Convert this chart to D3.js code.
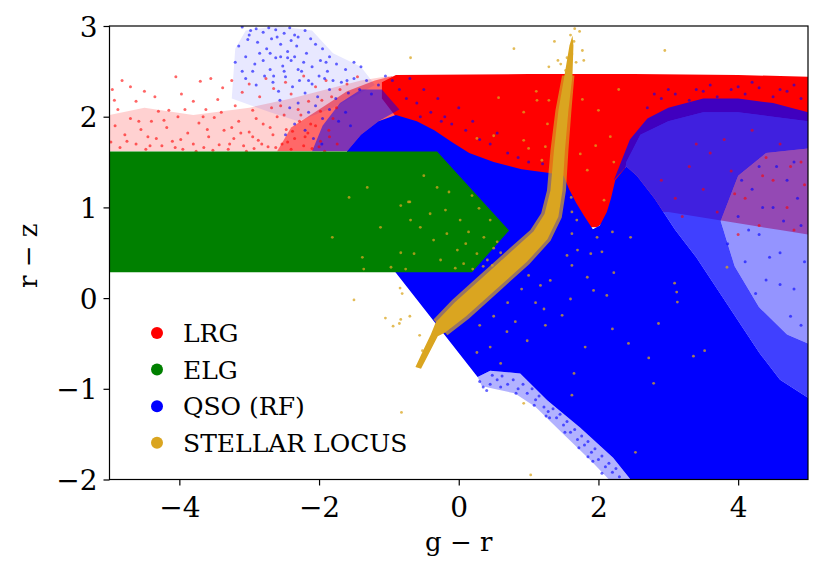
<!DOCTYPE html>
<html lang="en">
<head>
<meta charset="utf-8">
<title>g - r vs r - z</title>
<script src="https://d3js.org/d3.v7.min.js"></script>
<style>
  body { margin: 0; background: #fff; }
  svg text { font-family: "DejaVu Serif", serif; fill: #000; }
</style>
</head>
<body>
<script>
// ---- axes ----
var xTicks = [-4, -2, 0, 2, 4];
var yTicks = [-2, -1, 0, 1, 2, 3];
var xDomain = [-5, 5];
var yDomain = [-2, 3];
var legendNames = ["LRG", "ELG", "QSO (RF)", "STELLAR LOCUS"];

// ---- LRG (g-r, r-z) ----
var lrgCore = [[-1.1,2.38],[-0.9,2.46],[1.0,2.47],[2.5,2.47],[4.0,2.46],[5,2.44],[5,1.95],[4.5,2.0],[4.0,2.05],[3.5,2.05],[3.0,1.95],[2.6,1.8],[2.4,1.5],[2.3,1.0],[2.1,0.85],[1.98,0.78],[1.86,0.78],[1.72,0.95],[1.5,1.1],[1.2,1.0],[0.6,1.1],[0.0,1.4],[-0.5,1.7],[-0.85,1.95],[-1.1,2.2]];
var lrgLow = [[2.3,1.0],[2.4,1.5],[2.6,1.8],[3.0,1.95],[3.5,2.05],[4.0,2.05],[4.5,2.0],[5,1.95],[5,0.7],[4.6,0.75],[4.2,0.8],[3.8,0.85],[3.4,0.9],[3.0,0.95],[2.6,0.95]];
var lrgHaze = [[-5,1.62],[-5,2.02],[-4.5,2.1],[-3.8,2.02],[-3.0,2.1],[-2.4,2.2],[-1.9,2.3],[-1.4,2.4],[-1.0,2.45],[-0.8,2.3],[-1.0,1.62]];
var lrgMid = [[-2.6,1.62],[-2.4,1.88],[-2.0,2.08],[-1.6,2.28],[-1.2,2.4],[-0.95,2.45],[-0.9,2.0],[-1.1,1.62]];
var lrgDots = [[-4.96,2.30],[-4.93,2.18],[-4.82,2.40],[-4.70,2.33],[-4.62,2.17],[-4.50,2.28],[-4.35,2.22],[-4.30,2.06],[-4.15,2.07],[-4.05,2.44],[-3.97,2.25],[-3.80,2.17],[-3.70,2.39],[-3.62,2.08],[-3.55,2.42],[-3.45,2.19],[-3.38,2.32],[-3.25,2.40],[-3.2,2.12],[-3.1,2.27],[-3.0,2.36],[-2.95,2.07],[-2.85,2.22],[-2.76,2.42],[-2.65,2.31],[-2.55,2.12],[-2.48,2.38],[-2.40,2.25],[-2.30,2.08],[-2.22,2.45],[-2.15,2.17],[-2.05,2.33],[-1.98,2.06],[-1.90,2.40],[-1.82,2.22],[-1.75,2.10],
  [-4.98,1.72],[-4.92,1.90],[-4.85,1.66],[-4.78,1.80],[-4.70,1.98],[-4.62,1.70],[-4.55,1.86],[-4.48,1.64],[-4.40,1.95],[-4.33,1.76],[-4.25,1.68],[-4.18,1.88],[-4.10,1.73],[-4.02,2.00],[-3.95,1.64],[-3.88,1.82],[-3.80,1.70],[-3.72,1.93],[-3.65,1.66],[-3.58,1.78],[-3.50,1.99],[-3.43,1.69],[-3.36,1.85],[-3.30,1.64],[-3.22,1.76],[-3.15,1.95],[-3.08,1.68],[-3.00,1.83],[-2.93,1.65],[-2.87,1.74],[-2.80,1.92],[-2.73,1.67],[-2.66,1.80],[-2.60,2.00],[-2.53,1.70],[-2.47,1.86],[-2.40,1.64],[-2.35,1.76],[-2.28,1.95],[-2.22,1.68],[-2.16,1.82],[-2.10,1.65],[-2.05,1.90],[-1.98,1.73],[-1.92,1.62],[-1.86,1.85],[-1.80,1.98],[-1.74,1.70],[-4.45,1.78],[-3.98,1.75],[-3.60,1.86],[-3.25,1.88],[-2.95,1.78],[-2.70,1.88],[-2.45,1.72],[-2.20,1.78],[-2.00,1.67],[-1.85,1.78],
  [-4.88,2.08],[-4.75,1.73],[-4.58,1.95],[-4.42,1.68],[-4.22,1.96],[-4.06,1.66],[-3.92,2.08],[-3.76,1.62],[-3.66,2.00],[-3.52,1.63],[-3.40,2.05],[-3.28,1.70],[-3.12,1.82],[-3.04,1.62],[-2.90,1.98],[-2.82,1.70],[-2.68,2.10],[-2.62,1.66],[-2.50,2.02],[-2.38,1.84],[-2.26,2.02],[-2.12,1.92],[-1.96,2.18],[-1.70,2.30],[-1.60,2.36],[-1.45,2.44],
  [2.9,1.3],[3.1,1.1],[3.3,1.45],[3.5,1.2],[3.7,0.95],[3.9,1.4],[4.1,1.1],[4.3,0.8],[4.5,1.3],[4.7,1.0],[4.9,1.5],[3.2,0.9],[3.6,1.6],[4.0,0.7],[4.4,1.55],[4.8,0.75],[4.6,1.7],[4.2,1.85],[3.8,1.75],[3.4,1.7],[4.95,1.25],[4.75,1.45],[4.35,1.35],[3.95,1.15]];

// ---- QSO (RF) ----
var qsoCore = [[-1.6,1.62],[-1.4,1.8],[-1.15,1.95],[-0.9,2.02],[-0.6,1.95],[-0.35,1.85],[-0.1,1.72],[0.15,1.6],[0.5,1.5],[0.9,1.42],[1.3,1.38],[1.5,1.35],[1.58,1.2],[1.68,1.05],[1.8,0.9],[1.92,0.76],[2.02,0.8],[2.12,0.95],[2.18,1.1],[2.24,1.3],[2.4,1.45],[2.55,1.35],[2.8,1.1],[3.1,0.75],[3.4,0.45],[3.7,0.1],[4.0,-0.25],[4.3,-0.6],[4.6,-0.9],[5,-1.1],[5,-2],[2.46,-2],[2.21,-1.76],[1.74,-1.43],[1.27,-1.13],[0.88,-0.83],[0.45,-0.8],[0.27,-0.87],[-0.92,0.3],[-1.6,0.3]];
var qsoMixed = [[2.22,1.3],[2.45,1.75],[2.7,1.98],[3.0,2.1],[3.5,2.2],[4.0,2.2],[4.5,2.15],[5,2.05],[5,-1.1],[4.6,-0.9],[4.3,-0.6],[4.0,-0.25],[3.7,0.1],[3.4,0.45],[3.1,0.75],[2.8,1.1],[2.55,1.35],[2.4,1.45]];
var qsoThin = [[3.75,0.85],[4.0,1.35],[4.4,1.6],[5,1.65],[5,-0.5],[4.7,-0.4],[4.3,-0.1],[3.95,0.35]];
var qsoMid = [[-2.1,1.62],[-1.95,1.9],[-1.7,2.15],[-1.4,2.3],[-1.1,2.3],[-0.85,2.08],[-1.15,1.95],[-1.4,1.8],[-1.6,1.62]];
var qsoHaze = [[-3.25,2.2],[-3.2,2.75],[-3.05,2.95],[-2.6,3.0],[-2.1,2.95],[-1.8,2.7],[-1.4,2.55],[-1.2,2.35],[-1.8,2.1],[-2.3,1.95],[-2.7,2.05]];
var qsoFringe = [[0.27,-0.87],[0.45,-0.8],[0.88,-0.83],[1.27,-1.13],[1.74,-1.43],[2.21,-1.76],[2.46,-2],[2.15,-2],[1.9,-1.8],[1.5,-1.5],[1.1,-1.2],[0.8,-1.05],[0.5,-1.0],[0.33,-0.97]];
var qsoDots = [[-3.10,2.99],[-2.98,2.95],[-2.90,2.97],[-2.80,2.93],[-2.72,2.98],[-2.62,2.96],[-2.50,2.92],[-2.42,2.98],[-2.30,2.88],[-2.20,2.95],[-2.12,2.86],[-3.15,2.78],[-3.02,2.85],[-2.88,2.82],[-2.75,2.75],[-2.68,2.86],[-2.55,2.80],[-2.45,2.72],[-2.32,2.78],[-2.18,2.70],[-2.05,2.80],[-1.95,2.75],[-1.85,2.66],[-3.20,2.60],[-3.05,2.66],[-2.92,2.58],[-2.80,2.62],[-2.70,2.52],[-2.62,2.65],[-2.52,2.56],[-2.40,2.62],[-2.30,2.52],[-2.22,2.60],[-2.10,2.55],[-1.98,2.62],[-1.88,2.50],[-1.75,2.58],[-1.62,2.52],[-1.50,2.60],[-1.40,2.55],[-3.05,2.42],[-2.90,2.35],[-2.78,2.45],[-2.66,2.38],[-2.58,2.28],[-2.48,2.44],[-2.38,2.33],[-2.28,2.40],[-2.20,2.26],[-2.10,2.36],[-2.02,2.22],[-1.92,2.42],[-1.85,2.30],[-1.76,2.20],[-1.68,2.38],[-1.58,2.26],[-1.50,2.42],[-1.42,2.30],[-1.32,2.40],[-1.25,2.25],[-1.15,2.35],[-1.05,2.45],[-2.56,2.18],[-2.42,2.10],[-2.30,2.15],[-2.15,2.05],[-2.05,2.12],[-1.95,1.98],[-1.85,2.08],[-1.72,1.95],[-1.62,2.05],[-1.55,1.90],[-2.35,1.92],[-2.20,1.85],[-2.08,1.76],[-1.96,1.70],[-2.48,1.80],[-2.55,2.66],[-2.45,2.65],[-2.35,2.66],
  [-3.0,2.9],[-2.85,2.7],[-2.6,2.88],[-2.4,2.84],[-2.25,2.5],[-2.0,2.45],[-1.9,2.6],[-2.7,2.7],[-2.95,2.5],[-2.15,2.4],[-1.8,2.4],[-1.6,2.4],[-2.65,2.45],[-3.1,2.5],[-2.5,2.5],[-2.35,2.9],
  [-0.95,2.4],[-0.85,2.3],[-0.75,2.2],[-0.7,2.42],[-0.6,2.15],[-0.5,2.3],[-0.4,2.05],[-0.3,2.2],[-0.2,2.0],[-0.1,1.92],[0.0,2.1],[0.1,1.85],[0.2,1.95],[0.3,1.75],[0.45,1.7],[0.55,1.82],[0.7,1.6],[0.85,1.55],[1.0,1.5],[1.2,1.48],[-0.55,2.0],[-0.25,1.95],
  [2.7,2.1],[2.9,2.2],[3.1,2.25],[3.3,2.18],[3.5,2.28],[3.7,2.22],[3.9,2.3],[4.1,2.25],[4.3,2.32],[4.5,2.22],[4.7,2.28],[4.9,2.2],[3.0,2.3],[3.6,2.35],[4.2,2.38],[4.8,2.35],[2.8,2.25],[3.4,2.3],[4.0,2.33],[4.6,2.3],
  [3.85,0.6],[4.0,0.9],[4.1,0.4],[4.2,1.2],[4.3,0.7],[4.4,0.2],[4.5,1.0],[4.6,0.5],[4.7,1.3],[4.8,0.1],[4.9,0.8],[4.05,1.3],[4.25,0.05],[4.55,1.45],[4.75,-0.2],[4.95,0.4],[4.35,1.0],[4.65,0.85],[4.85,1.1],[4.15,0.75],[4.45,0.45],[4.9,-0.3],[4.6,0.15],[4.8,1.5],[4.3,1.45],
  [0.30,-0.92],[0.35,-0.98],[0.48,-0.85],[0.55,-0.90],[0.62,-0.86],[0.70,-0.95],[0.78,-0.90],[0.85,-1.00],[0.92,-0.95],[0.98,-1.05],[1.05,-1.00],[1.10,-1.12],[1.15,-1.08],[1.22,-1.20],[1.28,-1.25],[1.35,-1.22],[1.40,-1.32],[1.45,-1.28],[1.50,-1.40],[1.55,-1.36],[1.60,-1.48],[1.66,-1.45],[1.70,-1.56],[1.76,-1.52],[1.80,-1.62],[1.85,-1.58],[1.90,-1.70],[1.95,-1.66],[2.00,-1.78],[2.05,-1.74],[2.10,-1.86],[2.15,-1.82],[2.20,-1.92],[2.25,-1.88],[2.30,-1.97],[1.92,-1.80],[1.72,-1.65],[1.52,-1.48],[1.30,-1.32],[1.08,-1.18],[0.82,-1.05],[2.05,-1.93],[1.85,-1.75],[1.25,-1.30],[0.60,-0.98],[0.40,-1.02],[0.45,-0.95]];

// ---- ELG ----
var elgBox = [[-5,1.615],[-0.31,1.615],[0.72,0.745],[0.19,0.285],[-5,0.285]];

// ---- stellar locus ----
var locusBand = [[-0.62,-0.76],[-0.50,-0.56],[-0.40,-0.40],[-0.329,-0.266],[-0.062,-0.051],[0.368,0.247],[0.792,0.541],[1.069,0.733],[1.228,0.927],[1.313,1.187],[1.363,1.628],[1.427,2.068],[1.513,2.455],[1.585,2.785],[1.628,2.896],
  [1.642,2.785],[1.628,2.455],[1.570,2.068],[1.520,1.628],[1.485,1.187],[1.426,0.896],[1.270,0.649],[0.975,0.400],[0.540,0.099],[0.110,-0.198],[-0.195,-0.380],[-0.30,-0.42],[-0.42,-0.60],[-0.54,-0.78]];
var locusHalo = [[-0.362,-0.237],[-0.095,-0.022],[0.334,0.276],[0.757,0.568],[1.025,0.752],[1.18,0.935],[1.263,1.187],[1.313,1.628],[1.384,2.068],[1.479,2.455],
  [1.656,2.455],[1.613,2.068],[1.570,1.628],[1.535,1.187],[1.475,0.889],[1.314,0.631],[1.009,0.374],[0.573,0.071],[0.144,-0.227],[-0.162,-0.409]];
var stellarDots = [[-0.69,2.65],[0.79,2.75],[1.37,2.83],[1.66,2.97],[1.73,2.94],[1.65,2.83],[1.77,2.73],[1.62,2.69],[1.79,2.62],[1.42,2.62],[1.46,2.58],[1.29,2.55],[1.57,2.55],[1.53,2.51],[2.95,2.73],[1.60,2.90],[1.55,2.65],[1.68,2.60],
  [-0.50,1.35],[-0.31,1.22],[-0.14,1.17],[0.19,1.13],[-0.83,1.02],[-0.70,1.06],[-0.41,0.93],[-0.19,0.97],[0.02,0.86],[0.29,0.99],[0.45,0.86],[-0.55,0.78],[-0.17,0.71],[0.14,0.73],[0.36,0.67],[-0.36,0.64],[-0.02,0.53],[0.26,0.49],[-0.64,0.49],[-0.26,0.42],[0.07,0.38],[0.41,0.42],[-1.31,1.22],[-1.57,1.11],[-0.72,1.06],[-1.81,0.67],[-1.12,0.78],[-1.38,0.45],[-1.36,0.32],[-0.83,0.50],[-0.97,0.34],[-0.76,0.32],[-0.69,0.86],[0.55,0.62],[0.60,0.5],[0.50,0.55],[0.2,0.32],[0.35,0.35],[0.1,0.6],[-0.05,0.33],[0.62,0.40],[0.48,0.36],
  [-1.50,-0.02],[-1.05,-0.22],[-0.83,-0.235],[-0.70,-0.20],[-0.94,-0.31],[-0.85,-0.28],[-0.82,-1.26],[-0.84,0.11],[-0.81,0.05],[-0.56,-0.41],[-0.52,-0.58],[1.03,-1.95],
  [0.69,-0.37],[0.98,-0.47],[1.24,-0.30],[1.48,-0.19],[0.81,-0.26],[1.22,-0.12],[1.65,-0.83],[0.93,-1.16],[0.45,-0.54],[0.26,-0.60],[0.60,-0.72],[1.84,0.23],[1.62,0.36],[2.22,0.28],[1.93,0.085],[1.31,0.195],[1.17,0.14],[1.55,0.47],[1.89,0.49],[2.20,-0.34],[1.81,-0.54],[2.43,-0.50],[2.72,-0.66],[3.36,-0.64],[2.86,-0.28],[1.62,-1.07],[2.79,-0.94],[2.53,-1.70],[1.60,-0.01],[1.62,0.71],[1.70,0.53],[2.05,0.51],[2.20,0.73],[2.12,0.03],[3.09,0.165],[3.12,0.066],[3.13,-0.044],[3.52,-0.58],[3.84,0.34],[0.9,0.1],[1.0,0.25],[0.7,-0.05],[0.5,-0.2],[0.3,-0.3],[1.1,-0.05],
  [1.11,2.28],[0.57,2.21],[0.93,2.05],[1.12,2.18],[1.27,1.92],[0.50,1.79],[0.26,1.76],[0.93,1.74],[1.00,1.65],[1.24,1.67],[1.19,1.52],[1.74,1.59],[1.77,2.19],[2.0,2.07],[2.17,1.78],[2.29,2.30],[2.22,1.50],[1.84,1.41],[1.61,1.11],[1.62,0.95],[1.69,0.86],[1.98,0.67],[2.46,0.67],[2.08,1.08],[1.29,2.18],[1.96,1.68]];

// ---- styles ----
var colors = { LRG: "#ff0000", ELG: "#008000", QSO: "#0000ff", STAR: "#daa520" };
var fs = { tick: 28, label: 26, legend: 25 };

var W = 830, H = 574;
var margin = { left: 109.5, right: 22, top: 26, bottom: 94.5 };

var svg = d3.select("body").append("svg")
  .attr("width", W).attr("height", H);

var x = d3.scaleLinear().domain(xDomain).range([margin.left, W - margin.right]);
var y = d3.scaleLinear().domain(yDomain).range([H - margin.bottom, margin.top]);

svg.append("clipPath").attr("id", "plotclip")
  .append("rect")
  .attr("x", x(xDomain[0])).attr("y", y(yDomain[1]))
  .attr("width", x(xDomain[1]) - x(xDomain[0]))
  .attr("height", y(yDomain[0]) - y(yDomain[1]));

var plot = svg.append("g").attr("clip-path", "url(#plotclip)");

var line = d3.line().x(function(d){ return x(d[0]); }).y(function(d){ return y(d[1]); });

function area(pts, color, op){
  plot.append("path").attr("d", line(pts) + "Z")
    .attr("fill", color).attr("fill-opacity", op).attr("stroke", "none");
}
function dots(pts, color, op, r){
  plot.append("g").selectAll("circle")
    .data(pts).enter().append("circle")
    .attr("cx", function(d){ return x(d[0]); })
    .attr("cy", function(d){ return y(d[1]); })
    .attr("r", r)
    .attr("fill", color).attr("fill-opacity", op);
}

// LRG first
area(lrgHaze, colors.LRG, 0.18);
area(lrgMid, colors.LRG, 0.5);
area(lrgLow, colors.LRG, 0.5);
area(lrgCore, colors.LRG, 1);

// QSO
area(qsoHaze, colors.QSO, 0.09);
area(qsoMid, colors.QSO, 0.5);
area(qsoCore, colors.QSO, 1);
area(qsoFringe, colors.QSO, 0.3);
plot.append("path").attr("d", line(qsoMixed) + "Z" + line(qsoThin) + "Z")
  .attr("fill", colors.QSO).attr("fill-opacity", 0.75).attr("fill-rule", "evenodd");
area(qsoThin, colors.QSO, 0.42);
dots(lrgDots, colors.LRG, 0.6, 1.5);
dots(qsoDots, colors.QSO, 0.6, 1.5);

// ELG
area(elgBox, colors.ELG, 1);

// stellar locus on top
area(locusHalo, colors.STAR, 0.7);
area(locusBand, colors.STAR, 1);
dots(stellarDots, colors.STAR, 0.75, 1.4);

// ---- axes ----
var fmt = d3.format("d");
var xAxis = svg.append("g")
  .attr("transform", "translate(0," + y(yDomain[0]) + ")")
  .call(d3.axisBottom(x).tickValues(xTicks).tickFormat(fmt).tickSize(6).tickSizeOuter(0));
xAxis.selectAll("text").attr("y", 37).attr("dy", null).style("font-size", fs.tick + "px");

var yAxis = svg.append("g")
  .attr("transform", "translate(" + x(xDomain[0]) + ",0)")
  .call(d3.axisLeft(y).tickValues(yTicks).tickFormat(fmt).tickSize(6).tickSizeOuter(0));
yAxis.selectAll("text").attr("x", -12).attr("dy", "0.36em").style("font-size", fs.tick + "px");

svg.selectAll(".domain").remove();
svg.selectAll(".tick line").attr("stroke", "#000").attr("stroke-width", 1.2);
svg.selectAll(".tick text").attr("font-family", null);

svg.append("rect")
  .attr("x", x(xDomain[0])).attr("y", y(yDomain[1]))
  .attr("width", x(xDomain[1]) - x(xDomain[0]))
  .attr("height", y(yDomain[0]) - y(yDomain[1]))
  .attr("fill", "none").attr("stroke", "#000").attr("stroke-width", 1.2);

svg.append("text")
  .attr("x", x(0)).attr("y", 551)
  .attr("text-anchor", "middle")
  .style("font-size", fs.label + "px")
  .text("g \u2212 r");

svg.append("text")
  .attr("transform", "translate(37," + (y(0.5) + 3) + ") rotate(-90)")
  .attr("text-anchor", "middle")
  .style("font-size", fs.label + "px")
  .text("r \u2212 z");

// ---- legend ----
var legendColors = [colors.LRG, colors.ELG, colors.QSO, colors.STAR];
var leg = svg.append("g").attr("transform", "translate(157,333)");
var items = leg.selectAll("g").data(legendNames).enter().append("g")
  .attr("transform", function(d, i){ return "translate(0," + (i * 36.6) + ")"; });
items.append("circle").attr("r", 6).attr("fill", function(d, i){ return legendColors[i]; });
items.append("text").attr("x", 26).attr("y", 9)
  .style("font-size", fs.legend + "px")
  .text(function(d){ return d; });
</script>
</body>
</html>
